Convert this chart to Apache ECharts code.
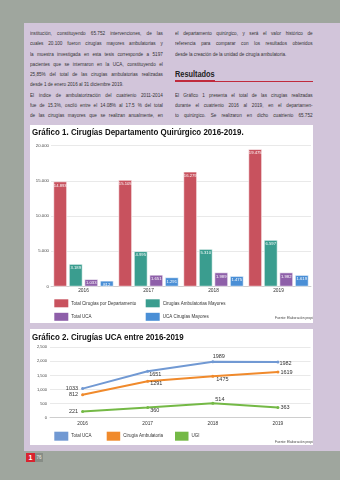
<!DOCTYPE html>
<html><head><meta charset="utf-8">
<script src="https://cdn.jsdelivr.net/npm/echarts@6/dist/echarts.min.js"></script>
<style>
html,body{margin:0;padding:0;}
body{width:340px;height:480px;background:#9fa69e;position:relative;overflow:hidden;font-family:"Liberation Sans",Arial,sans-serif;}
#panel{position:absolute;left:24px;top:23px;width:316px;height:428px;background:#d2c5da;}
.col{position:absolute;top:28px;width:166px;font-size:5.8px;color:#333;transform:scaleX(0.8);transform-origin:0 0;}
.ln{height:10.3px;line-height:10.3px;text-align:justify;text-align-last:justify;overflow:visible;}
.ln.last{text-align:left;text-align-last:left;}
.box{position:absolute;background:#fff;}
.ttl{position:absolute;left:32px;font-weight:bold;font-size:8.6px;line-height:10px;color:#111;white-space:nowrap;transform:scaleX(0.925);transform-origin:0 0;}
#h{position:absolute;left:175px;top:70px;font-weight:bold;font-size:8.2px;line-height:10px;color:#222;transform:scaleX(0.9);transform-origin:0 0;}
#r1{position:absolute;left:175px;top:80px;width:40px;height:2px;background:#c02a3c;}
#r2{position:absolute;left:215px;top:80.6px;width:98px;height:0.8px;background:#c02a3c;}
#c1{position:absolute;left:30px;top:125px;width:283px;height:198px;}
#c2{position:absolute;left:30px;top:329px;width:283px;height:116px;}
#p1{position:absolute;left:26px;top:453px;width:9px;height:9px;background:#d9232f;color:#fff;font-size:7px;line-height:9px;text-align:center;font-weight:bold;}
#p2{position:absolute;left:35px;top:453px;width:8px;height:9px;background:#878d86;color:#eee;font-size:4.5px;line-height:9px;text-align:center;}
</style></head>
<body>
<div id="panel"></div>
<div class="col" style="left:30px">
<div class="ln">institución, constituyendo 65.752 intervenciones, de las</div>
<div class="ln">cuales 20.100 fueron cirugías mayores ambulatorias y</div>
<div class="ln">la muestra investigada en esta tesis corresponde a 5197</div>
<div class="ln">pacientes que se internaron en la UCA, constituyendo el</div>
<div class="ln">25,85% del total de las cirugías ambulatorias realizadas</div>
<div class="ln last">desde 1 de enero 2016 al 31 diciembre 2019.</div>
<div class="ln">El índice de ambulatorización del cuatrienio 2011-2014</div>
<div class="ln">fue de 15.3%, osciló entre el 14.08% al 17.5 % del total</div>
<div class="ln">de las cirugías mayores que se realizan anualmente, en</div>
</div>
<div class="col" style="left:175px;width:172px">
<div class="ln">el departamento quirúrgico, y será el valor histórico de</div>
<div class="ln">referencia para comparar con los resultados obtenidos</div>
<div class="ln last">desde la creación de la unidad de cirugía ambulatoria.</div>
<div class="ln"></div><div class="ln"></div><div class="ln"></div>
<div class="ln">El Gráfico 1 presenta el total de las cirugías realizadas</div>
<div class="ln">durante el cuatrienio 2016 al 2019, en el departamen-</div>
<div class="ln">to quirúrgico. Se realizaron en dicho cuatrienio 65.752</div>
</div>
<div id="h">Resultados</div>
<div id="r1"></div><div id="r2"></div>
<div class="box" style="left:30px;top:125px;width:283px;height:198px"></div>
<div class="box" style="left:30px;top:329px;width:283px;height:116px"></div>
<div id="c1"></div>
<div id="c2"></div>
<div class="ttl" style="top:127px">Gráfico 1. Cirugías Departamento Quirúrgico 2016-2019.</div>
<div class="ttl" style="top:331.5px">Gráfico 2. Cirugías UCA entre 2016-2019</div>
<div id="p1">1</div><div id="p2">76</div>
<script>
// ---- data ----
const categories = ['2016', '2017', '2018', '2019'];
const totalDepartamento = [14893, 15105, 16279, 19475];
const ambulatoriasMayores = [3189, 4995, 5310, 6597];
const totalUCA = [1033, 1651, 1989, 1982];
const ucaCirugiasMayores = [812, 1291, 1475, 1619];
const chart2TotalUCA = [1033, 1651, 1989, 1982];
const chart2CirugiaAmbulatoria = [812, 1291, 1475, 1619];
const chart2UGI = [221, 360, 514, 363];
const yTicks1 = [0, 5000, 10000, 15000, 20000];
const yTicks2 = [0, 500, 1000, 1500, 2000, 2500];

const FONT = 'Liberation Sans';
const fmt = v => String(v).replace(/\B(?=(\d{3})+(?!\d))/g, '.');

// ---- chart 1 ----
const c1 = echarts.init(document.getElementById('c1'), null, {renderer: 'canvas'});
function bar(name, data, color) {
  return {
    name, type: 'bar', data, barWidth: 13.5, barGap: '15%',
    itemStyle: {color, borderColor: '#fff', borderWidth: 0.6},
    label: {show: true, position: 'insideTop', distance: 2, fontSize: 4.2, color: '#fff',
      fontFamily: FONT, formatter: p => fmt(p.value)}
  };
}
function leg(name, left, top, w, h) {
  return {data: [name], left, top, padding: 0, itemWidth: w, itemHeight: h, icon: 'rect',
    itemStyle: {borderWidth: 0},
    textStyle: {fontSize: 4.5, color: '#333', fontFamily: FONT, padding: [0, 0, 0, -2]}};
}
c1.setOption({
  animation: false,
  textStyle: {fontFamily: FONT},
  grid: {left: 21, right: 2, top: 20.5, bottom: 36.5, containLabel: false, outerBoundsMode: 'none'},
  xAxis: {type: 'category', data: categories, axisTick: {show: false},
    axisLine: {lineStyle: {color: '#c8c8c8', width: 0.8}},
    axisLabel: {fontSize: 4.8, color: '#333', margin: 1.5}},
  yAxis: {type: 'value', min: yTicks1[0], max: yTicks1[yTicks1.length - 1], interval: yTicks1[1] - yTicks1[0],
    name: 'Pacientes', nameLocation: 'middle', nameGap: 16,
    nameTextStyle: {fontSize: 4.6, color: '#333'},
    axisLabel: {fontSize: 4.3, color: '#444', margin: 2, formatter: v => fmt(v)},
    splitLine: {lineStyle: {color: '#e3e3e3', width: 0.8}}},
  legend: [
    leg('Total Cirugías por Departamento', 24.3, 174.3, 14, 8),
    leg('Cirugías Ambulatorias Mayores', 115.7, 174.3, 14, 8),
    leg('Total UCA', 24.3, 187.8, 14, 8),
    leg('UCA Cirugías Mayores', 115.7, 187.8, 14, 8)
  ],
  graphic: [{type: 'text', left: 245, top: 191.5,
    style: {text: 'Fuente: Elaboración propia.', fontSize: 3.3, fill: '#444', fontFamily: FONT}}],
  series: [
    bar('Total Cirugías por Departamento', totalDepartamento, '#c8525e'),
    bar('Cirugías Ambulatorias Mayores', ambulatoriasMayores, '#3a9d8f'),
    bar('Total UCA', totalUCA, '#8e5fa9'),
    bar('UCA Cirugías Mayores', ucaCirugiasMayores, '#4a8fd6')
  ]
});

// ---- chart 2 ----
const c2 = echarts.init(document.getElementById('c2'), null, {renderer: 'canvas'});
const lblPos = [
  ['left', 'right', 'top', 'right'],
  ['left', 'right', 'right', 'right'],
  ['left', 'right', 'right', 'right']
];
const lblOff = [
  [[0, 0], [-3, 3], [6, 2], [-3, 2]],
  [[0, 0], [-2, 2], [-1, 3], [-2, 0]],
  [[0, 0], [-2, 3], [-2, -4], [-2, 0]]
];
function line(name, data, color, idx) {
  return {
    name, type: 'line', data: data.map((v, i) => ({value: v,
      label: {position: lblPos[idx][i], offset: lblOff[idx][i]}})),
    symbol: 'circle', symbolSize: 3, lineStyle: {color, width: 2}, itemStyle: {color},
    label: {show: true, fontSize: 5.5, color: '#333', distance: 3, fontFamily: FONT}
  };
}
c2.setOption({
  animation: false,
  textStyle: {fontFamily: FONT},
  grid: {left: 20, right: 2.5, top: 18.3, bottom: 27.3, containLabel: false, outerBoundsMode: 'none'},
  xAxis: {type: 'category', data: categories, axisTick: {show: false},
    axisLine: {lineStyle: {color: '#c8c8c8', width: 0.8}},
    axisLabel: {fontSize: 4.8, color: '#333', margin: 3}},
  yAxis: {type: 'value', min: yTicks2[0], max: yTicks2[yTicks2.length - 1], interval: yTicks2[1] - yTicks2[0],
    name: 'Pacientes', nameLocation: 'middle', nameGap: 15,
    nameTextStyle: {fontSize: 4.6, color: '#333'},
    axisLabel: {fontSize: 4, color: '#444', margin: 3},
    splitLine: {lineStyle: {color: '#e3e3e3', width: 0.8}}},
  legend: [
    leg('Total UCA', 24.3, 102.7, 14, 9),
    leg('Cirugía Ambulatoria', 76.7, 102.7, 13.5, 9),
    leg('UGI', 145, 102.7, 13.5, 9)
  ],
  graphic: [{type: 'text', left: 245, top: 111.5,
    style: {text: 'Fuente: Elaboración propia.', fontSize: 3.3, fill: '#444', fontFamily: FONT}}],
  series: [
    line('Total UCA', chart2TotalUCA, '#7199d3', 0),
    line('Cirugía Ambulatoria', chart2CirugiaAmbulatoria, '#f08a2c', 1),
    line('UGI', chart2UGI, '#74b946', 2)
  ]
});
</script>
</body></html>
